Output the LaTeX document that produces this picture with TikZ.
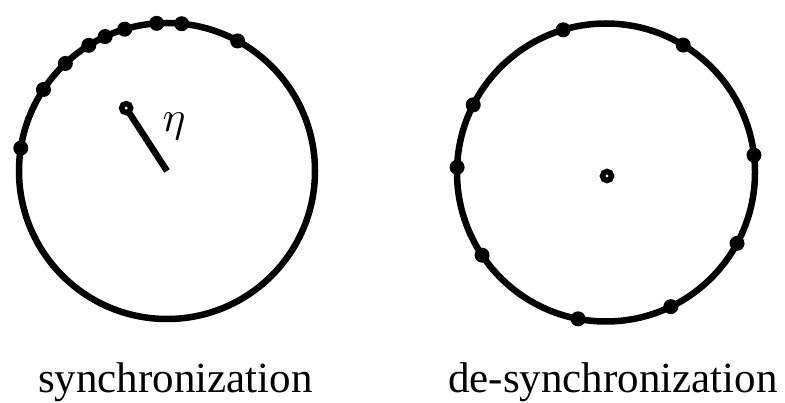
\documentclass[tikz,border=0pt]{standalone}
\usepackage{fontspec}
\setmainfont{Liberation Serif}
\usetikzlibrary{calc}
\begin{document}
\begin{tikzpicture}[x=1pt,y=1pt,
  ring/.style={line width=6.5pt},
  osc/.style={fill=black},
  hub/.style={line width=5.5pt, fill=white},
  lbl/.style={font=\fontsize{43}{50}\selectfont, anchor=base, inner sep=0pt}]
\useasboundingbox (0,0) rectangle (785,402);
\coordinate (L) at (167,231);
\coordinate (R) at (606,229.5);
% left circle: synchronized oscillators
\draw[ring] (L) circle (148);
\foreach \a in {171.1,146.6,133.4,121.9,114.7,106.6,94,84.3,61.5}
  \fill[osc] (L) ++(\a:148) circle (7.5);
\coordinate (Ltip) at ($(L)+(123:70)$);
\draw[line width=6.5pt] (L) -- (Ltip);
\draw[hub] (L) ++(123:75) circle (4.5);
\node[inner sep=0pt] (eta) at (174,276) {\scalebox{4.3}{$\eta$}};
% right circle: de-synchronized oscillators
\draw[ring] (R) circle (149);
\foreach \a in {106.7,58.8,153,178,6.7,-28.4,213.7,-64.2,-100.8}
  \fill[osc] (R) ++(\a:149) circle (7.5);
\draw[hub] (607,226) circle (4.5);
% labels
\node[lbl] (s) at (175.5,10) {synchronization};
\node[lbl] (d) at (613,10) {de-synchronization};
\end{tikzpicture}
\end{document}
